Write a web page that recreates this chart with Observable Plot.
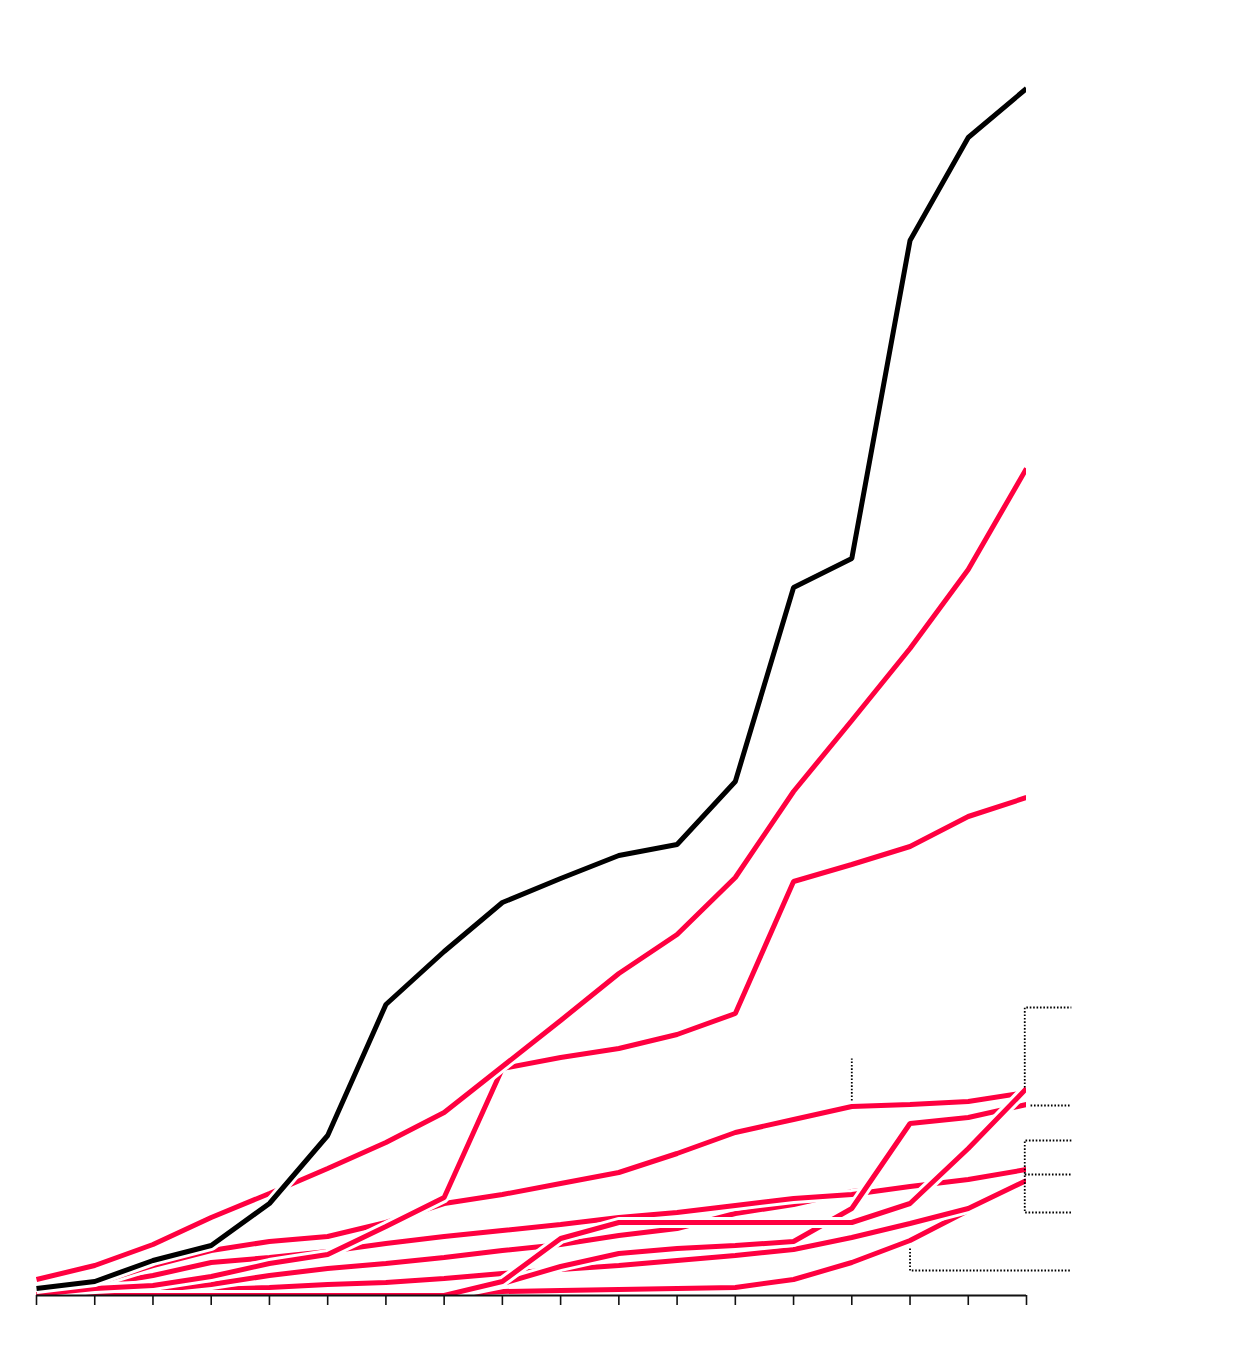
<!DOCTYPE html>
<html>
<head>
<meta charset="utf-8">
<script src="https://cdn.jsdelivr.net/npm/d3@7"></script>
<script src="https://cdn.jsdelivr.net/npm/@observablehq/plot@0.6"></script>
<style>
  html, body { margin: 0; padding: 0; background: #fff; }
  #chart svg { display: block; }
</style>
</head>
<body>
<div id="chart"></div>
<script>
// Periods (18 equally spaced steps along the x axis)
const periods = [0, 1, 2, 3, 4, 5, 6, 7, 8, 9, 10, 11, 12, 13, 14, 15, 16, 17];

// Highlighted (black) series
const seriesBlack = [7, 14, 35, 50, 92, 160, 291, 344, 393, 417, 440, 451, 514, 708, 737, 1055, 1158, 1207];

// Red series
const seriesA = [16, 30, 51, 78, 102, 127, 153, 183, 229, 275, 322, 361, 418, 504, 575, 647, 726, 827];
const seriesB = [1, 7, 10, 19, 32, 41, 69, 98, 227, 238, 247, 261, 282, 414, 431, 449, 479, 498];
const seriesC = [1, 12, 30, 45, 54, 59, 73, 92, 101, 112, 123, 142, 163, 176, 189, 191, 194, 203];
const seriesD = [0, 0, 0, 0, 0, 0, 0, 0, 14, 57, 73, 73, 73, 73, 73, 92, 147, 207];
const seriesE = [0, 0, 0, 0, 0, 0, 0, 0, 12, 29, 42, 47, 50, 54, 87, 172, 178, 191];
const seriesF = [2, 10, 20, 33, 38, 44, 52, 59, 65, 71, 78, 83, 90, 97, 101, 109, 116, 126];
const seriesG = [0, 0, 0, 6, 8, 11, 13, 17, 22, 26, 30, 35, 40, 46, 58, 72, 87, 115];
const seriesH = [0, 2, 5, 11, 20, 27, 32, 38, 45, 51, 60, 67, 82, 91, 104, 111, 117, 123];
const seriesJ = [0, 0, 0, 0, 0, 0, 0, 1, 4, 5, 6, 7, 8, 16, 33, 55, 85, 114];

// Label leader lines (dotted), in data units [period, value]
const leaderC = [[14, 195], [14, 237]];
const leaderD = [[16.97, 208], [16.97, 288], [17.77, 288]];
const leaderE = [[17.07, 190], [17.77, 190]];
const leaderFG = [[17.77, 155], [16.97, 155], [16.97, 83], [17.77, 83]];
const leaderH = [[16.97, 121], [17.77, 121]];
const leaderJ = [[15, 47], [15, 25], [17.77, 25]];

const RED = "#ff0040";

// drawing order (bottom to top)
const redOrder = [seriesJ, seriesG, seriesH, seriesF, seriesC, seriesE, seriesD, seriesB, seriesA];

function seriesMarks(values, color) {
  const rows = periods.map((p, i) => ({p, v: values[i]}));
  return [
    Plot.line(rows, {x: "p", y: "v", stroke: "white", strokeWidth: 11, strokeLinejoin: "miter", strokeLinecap: "butt", clip: true}),
    Plot.line(rows, {x: "p", y: "v", stroke: color, strokeWidth: 5, strokeLinejoin: "miter", strokeLinecap: "butt", clip: true})
  ];
}

const dotted = (pts) => Plot.line(pts, {x: d => d[0], y: d => d[1], stroke: "#000", strokeWidth: 1.8, strokeDasharray: "1.6,1.8", strokeLinecap: "butt"});

const chart = Plot.plot({
  width: 1240,
  height: 1368,
  marginLeft: 36,
  marginRight: 214,
  marginTop: 20,
  marginBottom: 73,
  style: {background: "#fff"},
  x: {domain: [0, 17], axis: null},
  y: {domain: [0, 1275], axis: null},
  marks: [
    ...redOrder.flatMap(s => seriesMarks(s, RED)),
    ...seriesMarks(seriesBlack, "#000"),
    dotted(leaderC),
    dotted(leaderD),
    dotted(leaderE),
    dotted(leaderFG),
    dotted(leaderH),
    dotted(leaderJ),
    Plot.ruleY([0], {x1: 0, x2: 17, stroke: "#111", strokeWidth: 2}),
    Plot.axisX({ticks: periods, tickSize: 10, tickFormat: () => "", label: null, stroke: "#111", strokeWidth: 1.6})
  ]
});

document.getElementById("chart").appendChild(chart);
</script>
</body>
</html>
